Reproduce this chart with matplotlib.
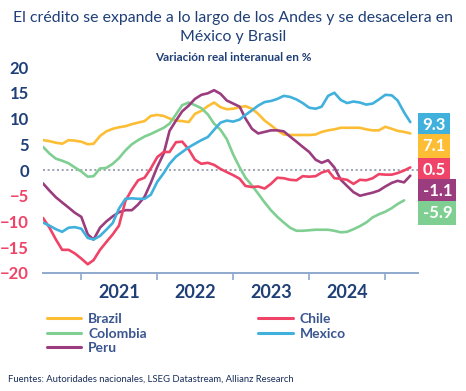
import numpy as np
import pandas as pd
import matplotlib
matplotlib.use("Agg")
import matplotlib.pyplot as plt
import matplotlib.dates as mdates

# monthly data, Jul 2020 - May 2025 (Colombia to Apr 2025)
dates = pd.date_range("2020-07-01", periods=59, freq="MS")

brazil = [5.8, 5.6, 5.3, 5.1, 5.8, 5.7, 5.5, 5.0, 5.1, 6.6, 7.5, 8.0, 8.3, 8.5, 8.9,
          9.2, 9.5, 10.5, 10.7, 10.5, 10.0, 9.6, 9.5, 9.3, 10.9, 11.5, 12.4, 13.1,
          12.2, 11.8, 11.9, 12.2, 12.4, 11.9, 10.9, 9.6, 8.7, 7.7, 6.9, 6.8, 6.8,
          6.8, 6.8, 6.9, 7.4, 7.7, 7.9, 8.2, 8.2, 8.2, 8.2, 7.9, 7.7, 7.7, 8.4, 8.0,
          7.6, 7.4, 7.1]
chile = [-9.3, -11.2, -13.5, -15.5, -15.5, -16.2, -17.2, -18.3, -17.5, -15.5, -14.0,
         -12.5, -10.8, -6.0, -3.8, -2.0, -1.5, 0.3, 2.5, 3.5, 3.5, 5.4, 5.5, 4.0, 2.0,
         1.2, 1.4, 1.0, 0.2, -0.4, -1.0, -1.7, -3.1, -3.3, -3.2, -3.6, -2.7, -1.5,
         -1.6, -1.9, -2.0, -1.2, -1.3, -1.2, -0.5, -0.1, -1.6, -1.7, -1.9, -2.7, -1.9,
         -2.0, -1.6, -0.8, -0.9, -0.9, -0.6, -0.1, 0.5]
colombia = [4.5, 3.2, 2.2, 1.8, 1.3, 0.5, -0.3, -1.3, -1.2, 0.3, 0.4, 1.2, 2.3, 3.8,
            5.0, 5.8, 6.5, 7.0, 7.6, 8.2, 9.0, 10.8, 12.6, 13.1, 12.6, 12.0, 10.8,
            9.0, 7.8, 6.0, 3.0, 0.5, -1.5, -3.0, -4.6, -6.3, -7.8, -9.1, -10.2, -11.2,
            -11.8, -11.8, -11.7, -11.6, -11.6, -11.6, -11.8, -12.1, -12.0, -11.5,
            -10.9, -10.2, -9.2, -8.6, -8.1, -7.4, -6.6, -5.9, np.nan]
mexico = [-10.2, -10.8, -11.5, -12.0, -11.2, -11.1, -11.4, -13.2, -13.5, -12.8, -11.6,
          -10.3, -7.5, -5.6, -5.5, -5.6, -5.6, -4.8, -2.3, -0.6, 1.2, 2.6, 3.5, 4.4,
          5.1, 5.8, 6.4, 7.8, 9.2, 9.6, 9.4, 9.8, 10.7, 11.6, 12.5, 13.2, 13.4, 13.8,
          14.4, 14.2, 13.7, 13.0, 12.1, 11.9, 12.3, 14.4, 15.0, 13.6, 13.0, 13.3, 13.1,
          12.7, 12.9, 13.7, 14.6, 14.5, 13.5, 11.2, 9.3]
peru = [-2.6, -4.0, -5.3, -6.3, -7.3, -8.3, -9.1, -12.5, -13.5, -11.2, -10.0, -9.0,
        -8.2, -7.8, -7.8, -6.7, -5.2, -2.5, 0.6, 3.2, 7.6, 9.6, 11.4, 12.5, 13.8, 14.6,
        14.9, 15.5, 14.8, 13.5, 12.9, 12.3, 10.0, 8.0, 7.1, 7.4, 7.7, 7.7, 7.5, 6.5,
        5.5, 4.5, 3.5, 2.0, 1.4, 1.9, 0.5, -1.9, -3.1, -4.3, -5.0, -4.7, -4.4, -4.0,
        -3.2, -2.5, -2.1, -2.4, -1.1]

names = ["Brazil", "Colombia", "Peru", "Chile", "Mexico"]
series = [brazil, colombia, peru, chile, mexico]
colors = {"Brazil": "#FDBE36", "Chile": "#EF4367", "Colombia": "#7FCF92",
          "Mexico": "#40B0DD", "Peru": "#9A3C7E"}

# end-value boxes, top to bottom
box_order = ["Mexico", "Brazil", "Chile", "Peru", "Colombia"]
box_y = [8.7, 4.6, 0.0, -4.1, -8.4]

navy = "#1F3F77"
plt.rcParams["font.family"] = ["Lato", "DejaVu Sans"]

fig = plt.figure(figsize=(4.66, 3.91), dpi=100)
ax = fig.add_axes([0.0923, 0.3018, 0.8047, 0.5268])

for name, vals in zip(names, series):
    ax.plot(dates, vals, color=colors[name], lw=1.9, label=name,
            solid_capstyle="round")

ax.axhline(0, color="#8C93A6", lw=1.2, ls=(0, (1.2, 1.6)), zorder=0)

ax.set_ylim(-20, 20)
ax.set_xlim(dates[0], pd.Timestamp("2025-06-07"))
ax.set_yticks(range(-20, 25, 5))
ax.tick_params(axis="y", length=0, pad=10)
for lab, v in zip(ax.get_yticklabels(), range(-20, 25, 5)):
    lab.set_fontsize(12)
    lab.set_fontweight("bold")
    lab.set_color("#EF4367" if v < 0 else navy)

ax.xaxis.set_major_locator(mdates.YearLocator(1, month=1, day=1))
ax.xaxis.set_major_formatter(plt.NullFormatter())
ax.xaxis.set_minor_formatter(mdates.DateFormatter("%Y"))
ax.set_xticks([pd.Timestamp(f"{y}-07-01") for y in range(2021, 2025)], minor=True)
ax.tick_params(axis="x", which="major", length=5, width=1.2, color="#8FA8CC",
               direction="out")
ax.tick_params(axis="x", which="minor", length=0, pad=8, labelsize=13,
               labelcolor=navy)
for lab in ax.get_xticklabels(minor=True):
    lab.set_fontweight("bold")

for s in ["top", "right", "left"]:
    ax.spines[s].set_visible(False)
ax.spines["bottom"].set_color("#8FA8CC")
ax.spines["bottom"].set_linewidth(1.4)

last = {n: [v for v in s if not np.isnan(v)][-1] for n, s in zip(names, series)}
for name, yb in zip(box_order, box_y):
    ax.annotate(f"{last[name]:.1f}", xy=(1.012, yb), xycoords=("axes fraction", "data"),
                ha="left", va="center", color="white", fontsize=12, fontweight="bold",
                bbox=dict(boxstyle="square,pad=0.25", fc=colors[name], ec="none"),
                annotation_clip=False)

fig.text(0.5, 0.955, "El crédito se expande a lo largo de los Andes y se desacelera en",
         ha="center", va="center", fontsize=11.4, color=navy)
fig.text(0.5, 0.905, "México y Brasil", ha="center", va="center", fontsize=11.4,
         color=navy)
fig.text(0.5, 0.853, "Variación real interanual en %", ha="center", va="center",
         fontsize=8.5, fontweight="bold", color=navy)

leg = fig.legend(loc="upper left", bbox_to_anchor=(0.1, 0.2), ncol=2,
                 frameon=False, fontsize=10, handlelength=2.5, handletextpad=0.5,
                 columnspacing=8.0, labelspacing=0.2, borderpad=0, borderaxespad=0)
for t in leg.get_texts():
    t.set_color("#3A5590")
    t.set_fontweight("bold")
for h in leg.get_lines():
    h.set_linewidth(2.2)

fig.text(0.017, 0.018, "Fuentes: Autoridades nacionales, LSEG Datastream, Allianz Research",
         ha="left", va="bottom", fontsize=6.8, color="#1A2E5A")

fig.savefig("out.png", dpi=100, facecolor="white")
